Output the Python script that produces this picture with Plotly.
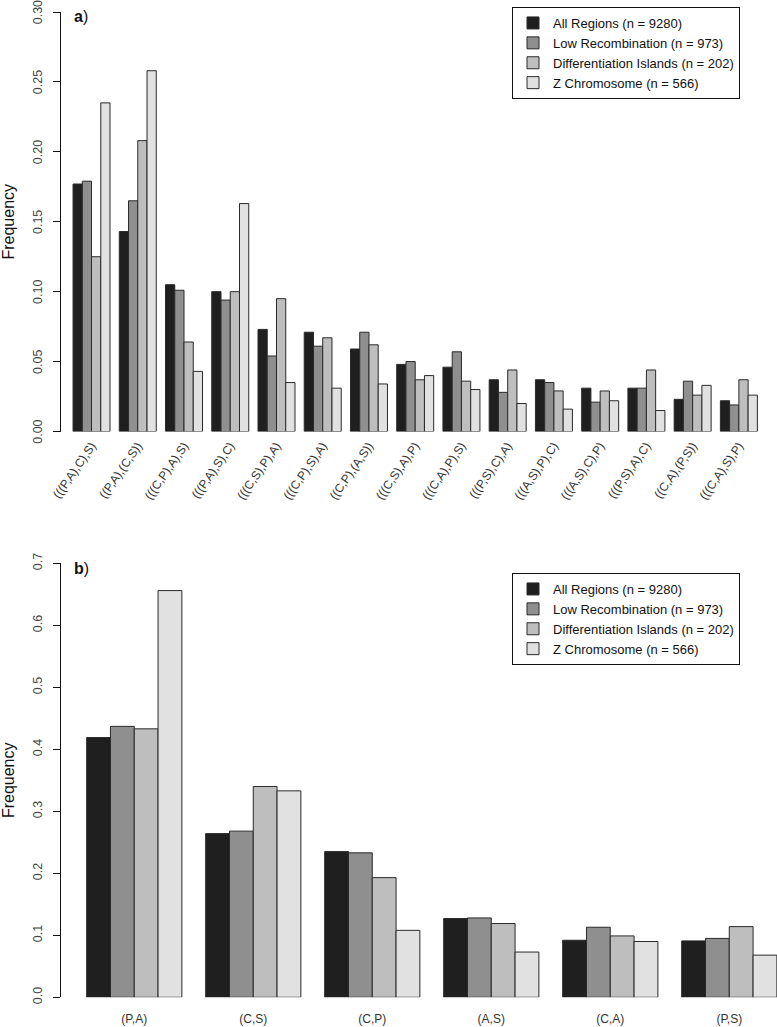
import plotly.graph_objects as go

# ---------------- data ----------------
trees = ["(((P,A),C),S)", "((P,A),(C,S))", "(((C,P),A),S)", "(((P,A),S),C)",
         "(((C,S),P),A)", "(((C,P),S),A)", "((C,P),(A,S))", "(((C,S),A),P)",
         "(((C,A),P),S)", "(((P,S),C),A)", "(((A,S),P),C)", "(((A,S),C),P)",
         "(((P,S),A),C)", "((C,A),(P,S))", "(((C,A),S),P)"]

a_all    = [0.177, 0.143, 0.105, 0.100, 0.073, 0.071, 0.059, 0.048, 0.046, 0.037, 0.037, 0.031, 0.031, 0.023, 0.022]
a_lowrec = [0.179, 0.165, 0.101, 0.094, 0.054, 0.061, 0.071, 0.050, 0.057, 0.028, 0.035, 0.021, 0.031, 0.036, 0.019]
a_island = [0.125, 0.208, 0.064, 0.100, 0.095, 0.067, 0.062, 0.037, 0.036, 0.044, 0.029, 0.029, 0.044, 0.026, 0.037]
a_zchrom = [0.235, 0.258, 0.043, 0.163, 0.035, 0.031, 0.034, 0.040, 0.030, 0.020, 0.016, 0.022, 0.015, 0.033, 0.026]

pairs = ["(P,A)", "(C,S)", "(C,P)", "(A,S)", "(C,A)", "(P,S)"]

b_all    = [0.419, 0.264, 0.235, 0.127, 0.092, 0.091]
b_lowrec = [0.437, 0.268, 0.233, 0.128, 0.113, 0.095]
b_island = [0.433, 0.340, 0.193, 0.119, 0.099, 0.114]
b_zchrom = [0.656, 0.333, 0.108, 0.073, 0.090, 0.068]

series_names = ["All Regions (n = 9280)", "Low Recombination (n = 973)",
                "Differentiation Islands (n = 202)", "Z Chromosome (n = 566)"]

a_ticks = [0.00, 0.05, 0.10, 0.15, 0.20, 0.25, 0.30]
b_ticks = [0.0, 0.1, 0.2, 0.3, 0.4, 0.5, 0.6, 0.7]

# ---------------- styling ----------------
colors = ["#1f1f1f", "#8f8f8f", "#bebebe", "#e1e1e1"]
W, H = 777, 1027
FONT = "Liberation Sans, Arial, Helvetica, sans-serif"


def fx(px):
    return px / W


def fy(px):
    return 1 - px / H


fig = go.Figure()
for name, vals, col in zip(series_names, [a_all, a_lowrec, a_island, a_zchrom], colors):
    fig.add_trace(go.Bar(x=trees, y=vals, name=name, xaxis="x", yaxis="y", legend="legend",
                         marker=dict(color=col, line=dict(color="#2a2a2a", width=1))))
for name, vals, col in zip(series_names, [b_all, b_lowrec, b_island, b_zchrom], colors):
    fig.add_trace(go.Bar(x=pairs, y=vals, name=name, xaxis="x2", yaxis="y2", legend="legend2",
                         marker=dict(color=col, line=dict(color="#2a2a2a", width=1))))

yax_common = dict(showgrid=False, zeroline=False, showline=True, linecolor="#111", linewidth=1,
                  ticks="outside", ticklen=7, tickcolor="#111", tickangle=-90, automargin=False,
                  tickfont=dict(family=FONT, size=12.5, color="#444"), ticklabelstandoff=6,
                  ticklabeloverflow="allow",
                  title=dict(text="Frequency", font=dict(family=FONT, size=16, color="#111"), standoff=12))
xax_common = dict(type="category", showgrid=False, zeroline=False, showline=False, ticks="",
                  automargin=False, ticklabeloverflow="allow")

fig.update_layout(
    template="none",
    width=W, height=H,
    margin=dict(l=0, r=0, t=0, b=0, pad=0, autoexpand=False),
    paper_bgcolor="white", plot_bgcolor="white",
    barmode="group", bargap=0.2, bargroupgap=0,
    font=dict(family=FONT, color="#111"),
    xaxis=dict(**xax_common, domain=[fx(60), fx(762)], anchor="y", range=[-0.682, 14.5],
               tickangle=-55, tickfont=dict(family=FONT, size=12, color="#333"), ticklabelstandoff=4),
    yaxis=dict(**yax_common, domain=[fy(431.5), fy(12)], anchor="free", position=fx(60),
               range=[0, 0.30], tickvals=a_ticks, tickformat=".2f", ticklabelshift=2),
    xaxis2=dict(**xax_common, domain=[fx(60), 1], anchor="y2", range=[-0.624, 5.401],
                tickangle=0, tickfont=dict(family="Liberation Sans Narrow, " + FONT, size=12, color="#333"),
                ticklabelstandoff=13),
    yaxis2=dict(**yax_common, domain=[fy(997.3), fy(563.3)], anchor="free", position=fx(60),
                range=[0, 0.7], tickvals=b_ticks, tickformat=".1f"),
    legend=dict(x=fx(512), y=fy(7), xanchor="left", yanchor="top", bordercolor="#111", borderwidth=1,
                bgcolor="white", font=dict(family=FONT, size=13, color="#111"), itemwidth=30,
                tracegroupgap=0),
    legend2=dict(x=fx(512), y=fy(573), xanchor="left", yanchor="top", bordercolor="#111", borderwidth=1,
                 bgcolor="white", font=dict(family=FONT, size=13, color="#111"), itemwidth=30,
                 tracegroupgap=0),
    showlegend=True,
    annotations=[
        dict(text="<b>a</b>)", x=fx(72), y=fy(16), xref="paper", yref="paper", xanchor="left",
             yanchor="middle", showarrow=False, font=dict(family=FONT, size=16, color="#111")),
        dict(text="<b>b</b>)", x=fx(72), y=fy(568), xref="paper", yref="paper", xanchor="left",
             yanchor="middle", showarrow=False, font=dict(family=FONT, size=16, color="#111")),
    ],
)

# remove the browser's default 8px page margin so the figure sits at the window's top-left corner
fig.write_html("out.html",
               config={"displayModeBar": False},
               post_script="document.body.style.margin='0';document.body.style.padding='0';"
                           "document.body.style.overflow='hidden';")
